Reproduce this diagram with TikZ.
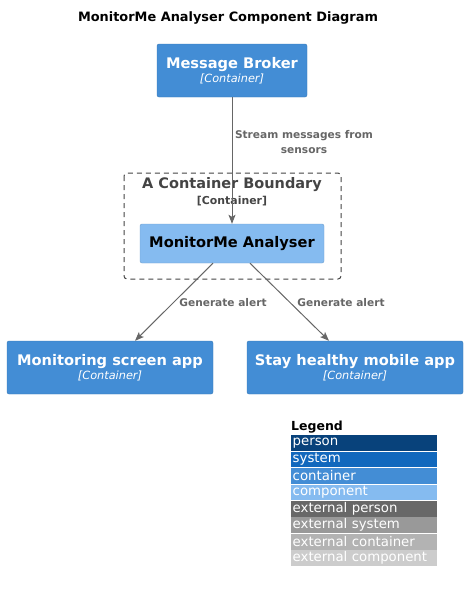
\documentclass[tikz,border=0pt]{standalone}
\usepackage{fontspec}
\setmainfont{DejaVu Sans}
\usetikzlibrary{arrows,
  arrows.meta,
  calc,
  positioning
}
\definecolor{personblue}{HTML}{08427B}
\definecolor{systemblue}{HTML}{1168BD}
\definecolor{containerblue}{HTML}{438DD5}
\definecolor{componentblue}{HTML}{85BBF0}
\definecolor{extperson}{HTML}{686868}
\definecolor{extsystem}{HTML}{999999}
\definecolor{extcontainer}{HTML}{B3B3B3}
\definecolor{extcomponent}{HTML}{CCCCCC}
\definecolor{relgray}{HTML}{666666}
\definecolor{boundgray}{HTML}{444444}
\tikzstyle{container} = [draw=containerblue!85!black, fill=containerblue,
  rounded corners=2, text=white, align=center, minimum height=53, inner sep=0]
\tikzstyle{component} = [draw=componentblue!85!black, fill=componentblue,
  rounded corners=2, text=black, align=center, minimum height=39, inner sep=0]
\tikzstyle{rel} = [draw=relgray, line width=1, ->,
  >={Stealth[length=9pt, width=7pt, inset=2pt]}]
\tikzstyle{rellabel} = [text=relgray, align=center,
  font=\bfseries\fontsize{10.6}{15}\selectfont]
\tikzstyle{legendrow} = [anchor=north west, minimum width=146, minimum height=15.6,
  inner xsep=1.5, inner ysep=0, text=white, font=\fontsize{13.3}{13}\selectfont,
  text width=143]
\newcommand{\boxname}[1]{{\bfseries\fontsize{14.6}{17}\selectfont #1}}
\newcommand{\boxtype}[1]{{\itshape\fontsize{11.3}{15}\selectfont [#1]}}

\begin{document}
\begin{tikzpicture}[x=1pt, y=-1pt]
  \useasboundingbox (0, 0) rectangle (467, 592);

  \node (title) at (228, 18) {\bfseries\fontsize{12.9}{15}\selectfont MonitorMe Analyser Component Diagram};

  % container boundary
  \draw[boundgray, line width=1, dash pattern=on 5pt off 4pt, rounded corners=3]
    (124, 173) rectangle (341, 279);
  \node[text=boundgray] (boundtitle) at (232, 185)
    {\bfseries\fontsize{14.5}{17}\selectfont A Container Boundary};
  \node[text=boundgray] (boundtype) at (232, 201)
    {\bfseries\fontsize{10.9}{13}\selectfont [Container]};

  \node[container, minimum width=150] (broker) at (232, 70.5)
    {\boxname{Message Broker}\\[1.5pt]\boxtype{Container}};
  \node[component, minimum width=184] (analyser) at (232, 243.5)
    {\boxname{MonitorMe Analyser}};
  \node[container, minimum width=206] (screen) at (110, 367.5)
    {\boxname{Monitoring screen app}\\[1.5pt]\boxtype{Container}};
  \node[container, minimum width=216] (mobile) at (355, 367.5)
    {\boxname{Stay healthy mobile app}\\[1.5pt]\boxtype{Container}};

  \draw[rel] (broker) -- (analyser);
  \node[rellabel] (streamlabel) at (304, 142) {Stream messages from\\sensors};

  \draw[rel] ($(analyser.south)+(-19,0)$) -- ($(screen.north)+(25,0)$);
  \node[rellabel] (alertleft) at (223, 303) {Generate alert};
  \draw[rel] ($(analyser.south)+(18,0)$) -- ($(mobile.north)+(-26,0)$);
  \node[rellabel] (alertright) at (341, 303) {Generate alert};

  % legend
  \node[anchor=west, inner sep=0] (legend) at (291, 427)
    {\bfseries\fontsize{12.5}{13}\selectfont Legend};
  \foreach \name/\col [count=\i from 0] in {person/personblue, system/systemblue,
    container/containerblue, component/componentblue,
    external person/extperson, external system/extsystem,
    external container/extcontainer, external component/extcomponent} {
    \node[legendrow, fill=\col] (legend\i) at (291, 435 + 16.45 * \i) {\name};
  }
\end{tikzpicture}
\end{document}
